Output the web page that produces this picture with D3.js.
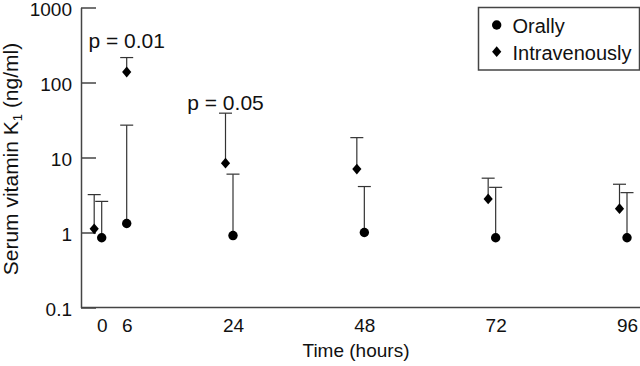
<!DOCTYPE html>
<html>
<head>
<meta charset="utf-8">
<script src="https://cdn.jsdelivr.net/npm/d3@7"></script>
<style>
  body { margin: 0; background: #fff; }
  text { font-family: "Liberation Sans", Arial, sans-serif; fill: #111; }
</style>
</head>
<body>
<div class="box"></div>
<script>
// data
const hours = [0, 6, 24, 48, 72, 96];
const oralMean  = [0.85, 1.32, 0.91, 1.0, 0.85, 0.85];
const oralUpper = [2.6, 27, 6.0, 4.1, 4.0, 3.4];
const ivMean    = [1.12, 138, 8.4, 7.0, 2.8, 2.08];
const ivUpper   = [3.2, 215, 39, 18.4, 5.3, 4.4];
const yTicks = [0.1, 1, 10, 100, 1000];
const pHours = [6, 24];
const pLevels = [288, 43];
const pTexts = ['p = 0.01', 'p = 0.05'];

const svg = d3.select('.box')
              .append('svg')
              .attr('width', 640)
              .attr('height', 366);

// scales (x is piecewise, the 6 h point sits closer to 0)
const x = d3.scaleLinear()
            .domain([0, 6, 24, 96])
            .range([101.7, 126.7, 233, 627]);
const y = d3.scaleLog()
            .domain([0.1, 1000])
            .range([307.5, 7.5]);

const axisX0 = 81;
const ivShift = t => t === 6 ? 0 : -7.5;

// axes
const gy = svg.append('g')
              .attr('transform', `translate(${axisX0}, 0)`)
              .call(d3.axisLeft(y)
                      .tickValues(yTicks)
                      .tickFormat(d => d)
                      .tickSizeInner(-15)
                      .tickSizeOuter(0)
                      .tickPadding(9));
gy.selectAll('path, line').attr('stroke', '#444').attr('stroke-width', 1.5);
gy.selectAll('text')
  .style('font-size', '19px')
  .attr('dy', '0.42em')
  .attr('fill', '#111');

const gx = svg.append('g')
              .attr('transform', `translate(0, ${y(0.1)})`)
              .call(d3.axisBottom(x)
                      .tickValues(hours)
                      .tickFormat(d => d)
                      .tickSize(0)
                      .tickPadding(11));
gx.select('.domain').remove();
gx.selectAll('text').style('font-size', '19px').attr('fill', '#111');
svg.append('line')
   .attr('x1', axisX0).attr('x2', 640)
   .attr('y1', y(0.1)).attr('y2', y(0.1))
   .attr('stroke', '#444').attr('stroke-width', 1.5);

// axis titles
svg.append('text')
   .attr('x', 356).attr('y', 357)
   .attr('text-anchor', 'middle')
   .style('font-size', '19px')
   .text('Time (hours)');

const yl = svg.append('text')
   .attr('transform', 'translate(18, 159) rotate(-90)')
   .attr('text-anchor', 'middle')
   .style('font-size', '21px');
yl.append('tspan').text('Serum vitamin K');
yl.append('tspan').attr('dy', 4).style('font-size', '13px').text('1');
yl.append('tspan').attr('dy', -4).text(' (ng/ml)');

// error bars
const capW = 6.5;
function errorBars(mean, upper, shift) {
    const g = svg.append('g').attr('stroke', '#333').attr('stroke-width', 1.2);
    hours.forEach((t, i) => {
        const cx = x(t) + shift(t);
        g.append('line')
         .attr('x1', cx).attr('x2', cx)
         .attr('y1', y(mean[i])).attr('y2', y(upper[i]));
        g.append('line')
         .attr('x1', cx - capW).attr('x2', cx + capW)
         .attr('y1', y(upper[i])).attr('y2', y(upper[i]));
    });
}
errorBars(oralMean, oralUpper, t => 0);
errorBars(ivMean, ivUpper, ivShift);

// markers
const diamond = 'M0,-5.4L4.6,0L0,5.4L-4.6,0Z';

svg.append('g').selectAll('circle')
   .data(hours)
   .enter()
   .append('circle')
   .attr('cx', d => x(d))
   .attr('cy', (d, i) => y(oralMean[i]))
   .attr('r', 4.7)
   .attr('fill', '#000');

svg.append('g').selectAll('path')
   .data(hours)
   .enter()
   .append('path')
   .attr('d', diamond)
   .attr('transform', (d, i) => `translate(${x(d) + ivShift(d)}, ${y(ivMean[i])})`)
   .attr('fill', '#000');

// p values
svg.append('g').selectAll('text')
   .data(pHours)
   .enter()
   .append('text')
   .attr('x', (d, i) => x(d) + ivShift(d))
   .attr('y', (d, i) => y(pLevels[i]))
   .attr('text-anchor', 'middle')
   .style('font-size', '21px')
   .text((d, i) => pTexts[i]);

// legend
const legend = svg.append('g');
legend.append('rect')
      .attr('x', 478.5).attr('y', 7.5)
      .attr('width', 161).attr('height', 62.5)
      .attr('fill', '#fff')
      .attr('stroke', '#444').attr('stroke-width', 1.5);
legend.append('circle')
      .attr('cx', 496.7).attr('cy', 25).attr('r', 4.7).attr('fill', '#000');
legend.append('path')
      .attr('d', diamond)
      .attr('transform', 'translate(496.7, 51.7)')
      .attr('fill', '#000');
legend.append('text').attr('x', 512.5).attr('y', 32.5)
      .style('font-size', '20px').text('Orally');
legend.append('text').attr('x', 512.5).attr('y', 59.5)
      .style('font-size', '20px').text('Intravenously');
</script>
</body>
</html>
